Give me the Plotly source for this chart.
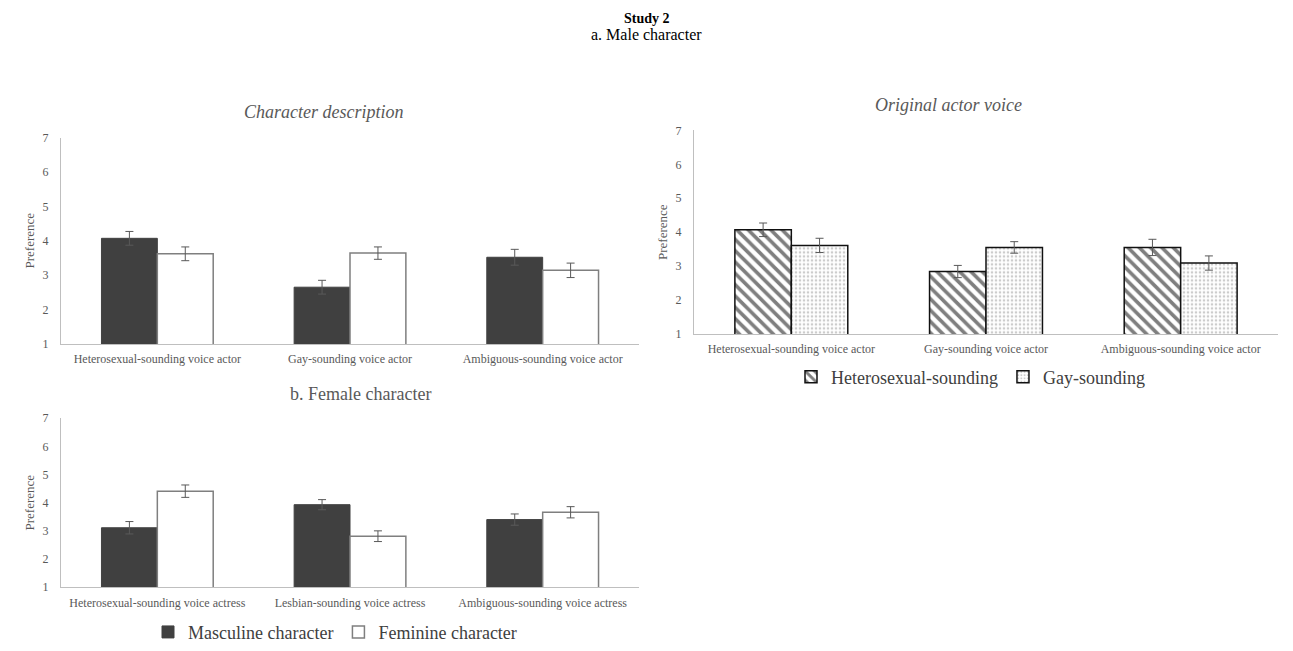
import plotly.graph_objects as go

# ---- data ----
male_cats = ["Heterosexual-sounding voice actor", "Gay-sounding voice actor", "Ambiguous-sounding voice actor"]
female_cats = ["Heterosexual-sounding voice actress", "Lesbian-sounding voice actress", "Ambiguous-sounding voice actress"]

male_masc = [4.07, 2.65, 3.52]
male_masc_err = [0.20, 0.20, 0.23]
male_fem = [3.62, 3.64, 3.14]
male_fem_err = [0.20, 0.18, 0.21]

voice_het = [4.07, 2.84, 3.55]
voice_het_err = [0.20, 0.18, 0.24]
voice_gay = [3.61, 3.55, 3.09]
voice_gay_err = [0.21, 0.17, 0.21]

fem_masc = [3.11, 3.93, 3.40]
fem_masc_err = [0.22, 0.18, 0.20]
fem_fem = [4.41, 2.81, 3.66]
fem_fem_err = [0.22, 0.19, 0.20]

y_ticks = [1, 2, 3, 4, 5, 6, 7]

W, H = 1293, 651
FONT = "Liberation Serif, Times New Roman, serif"
TICKC = "#595959"
AXC = "#bfbfbf"
DARK = "#404040"

def px(x):
    return x / W

def py(y):
    return 1 - y / H

fig = go.Figure()

def err(vals):
    return dict(type="data", array=vals, visible=True, color="#595959", thickness=1, width=4)

# Panel 1: male character / character description
fig.add_trace(go.Bar(x=male_cats, y=male_masc, error_y=err(male_masc_err), name="Masculine character",
                     marker=dict(color=DARK, line=dict(color=DARK, width=1)), xaxis="x", yaxis="y",
                     showlegend=False))
fig.add_trace(go.Bar(x=male_cats, y=male_fem, error_y=err(male_fem_err), name="Feminine character",
                     marker=dict(color="white", line=dict(color="#7f7f7f", width=1.5)), xaxis="x", yaxis="y",
                     showlegend=False))

# Panel 2: original actor voice
fig.add_trace(go.Bar(x=male_cats, y=voice_het, error_y=err(voice_het_err), name="Heterosexual-sounding",
                     marker=dict(color="white", line=dict(color="#111111", width=1.5),
                                 pattern=dict(shape="\\", fgcolor="#000000", bgcolor="white", size=8, solidity=0.45)),
                     xaxis="x2", yaxis="y2", legend="legend2"))
fig.add_trace(go.Bar(x=male_cats, y=voice_gay, error_y=err(voice_gay_err), name="Gay-sounding",
                     marker=dict(color="white", line=dict(color="#111111", width=1.5),
                                 pattern=dict(shape=".", fgcolor="#999999", bgcolor="white", size=4, solidity=0.35)),
                     xaxis="x2", yaxis="y2", legend="legend2"))

# Panel 3: female character
fig.add_trace(go.Bar(x=female_cats, y=fem_masc, error_y=err(fem_masc_err), name="Masculine character",
                     marker=dict(color=DARK, line=dict(color=DARK, width=1)), xaxis="x3", yaxis="y3",
                     legend="legend"))
fig.add_trace(go.Bar(x=female_cats, y=fem_fem, error_y=err(fem_fem_err), name="Feminine character",
                     marker=dict(color="white", line=dict(color="#7f7f7f", width=1.5)), xaxis="x3", yaxis="y3",
                     legend="legend"))

def xax(domain, anchor):
    return dict(domain=domain, anchor=anchor, showline=True, linecolor=AXC, linewidth=1,
                showgrid=False, zeroline=False, ticks="", ticklabelstandoff=4,
                tickfont=dict(family=FONT, size=12, color=TICKC), fixedrange=True)

def yax(domain, anchor):
    return dict(domain=domain, anchor=anchor, range=[1, 7], tickvals=y_ticks, showline=True,
                linecolor=AXC, linewidth=1, showgrid=False, zeroline=False, ticks="",
                ticklabelstandoff=9, tickfont=dict(family=FONT, size=12, color=TICKC),
                title=dict(text="Preference", font=dict(family=FONT, size=13, color=TICKC), standoff=5),
                fixedrange=True)

fig.update_layout(
    width=W, height=H,
    margin=dict(l=0, r=0, t=0, b=0),
    paper_bgcolor="white", plot_bgcolor="white",
    barmode="group", bargap=0.42, bargroupgap=0,
    font=dict(family=FONT),
    xaxis=xax([px(61), px(639)], "y"),
    yaxis=yax([py(346), py(134)], "x"),
    xaxis2=xax([px(694), px(1278)], "y2"),
    yaxis2=yax([py(335.7), py(126.7)], "x2"),
    xaxis3=xax([px(61), px(639)], "y3"),
    yaxis3=yax([py(595.7), py(422.3)], "x3"),
    legend=dict(orientation="h", x=px(148), y=py(642), xanchor="left", yanchor="middle",
                font=dict(family=FONT, size=18, color=DARK), itemwidth=30, bgcolor="rgba(0,0,0,0)"),
    legend2=dict(orientation="h", x=px(791), y=py(380), xanchor="left", yanchor="middle",
                 font=dict(family=FONT, size=18, color=DARK), itemwidth=30, bgcolor="rgba(0,0,0,0)"),
    annotations=[
        dict(text="<b>Study 2</b>", x=0.5, y=py(12), xref="paper", yref="paper", showarrow=False,
             font=dict(family=FONT, size=14, color="black"), xanchor="center", yanchor="middle"),
        dict(text="a. Male character", x=0.5, y=py(28), xref="paper", yref="paper", showarrow=False,
             font=dict(family=FONT, size=16, color="black"), xanchor="center", yanchor="middle"),
        dict(text="<i>Character description</i>", x=px(324), y=py(108), xref="paper", yref="paper",
             showarrow=False, font=dict(family=FONT, size=18, color=TICKC), xanchor="center", yanchor="middle"),
        dict(text="<i>Original actor voice</i>", x=px(948), y=py(101), xref="paper", yref="paper",
             showarrow=False, font=dict(family=FONT, size=18, color=TICKC), xanchor="center", yanchor="middle"),
        dict(text="b. Female character", x=px(360), y=py(397), xref="paper", yref="paper",
             showarrow=False, font=dict(family=FONT, size=18, color=TICKC), xanchor="center", yanchor="middle"),
    ],
)

fig.write_html("out.html", config={"displayModeBar": False},
               post_script="document.body.style.margin='0px';")
